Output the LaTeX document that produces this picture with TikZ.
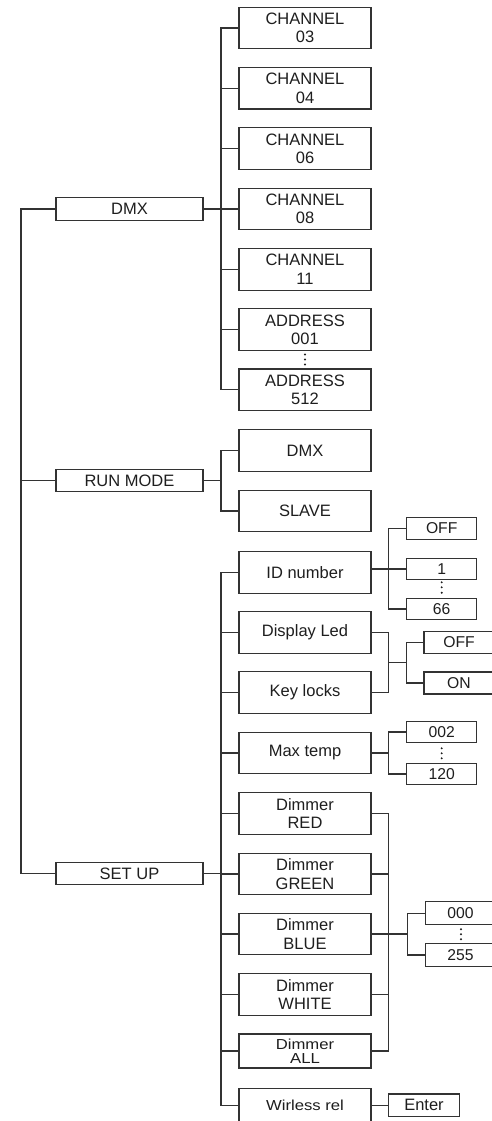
\documentclass[tikz,border=0pt]{standalone}
\usepackage{fontspec}
\setmainfont{Liberation Sans}
\newfontfamily\stretchfont[FakeStretch=1.15]{Liberation Sans}
\definecolor{lc}{HTML}{333333}
\definecolor{tc}{HTML}{1E1E1E}
\tikzset{
  ln/.style={draw=lc, line width=1.1pt},
  box/.style={draw=lc, line width=1.1pt, inner sep=0pt, align=center, text=tc,
    font=\fontsize{16.5}{18.3}\selectfont},
  lbox/.style={box, minimum width=147pt, minimum height=22.5pt},
  mbox/.style={box, minimum width=132pt, minimum height=41.5pt},
  nbox/.style={mbox, minimum height=34pt, font=\stretchfont\fontsize{14.5}{14.5}\selectfont},
  sbox/.style={box, minimum width=70pt, minimum height=21.5pt,
    font=\fontsize{15.7}{17}\selectfont},
  rbox/.style={sbox, minimum width=70pt, minimum height=22pt},
  dot/.style={fill=tc},
}
\begin{document}
\begin{tikzpicture}[x=1pt,y=-1pt]
\useasboundingbox (0,0) rectangle (492,1121);
\clip (0,0) rectangle (492,1121);
% level 1
\node[lbox] (dmx)   at (129.5,209)   {DMX};
\node[lbox] (run)   at (129.5,480.5) {RUN MODE};
\node[lbox] (setup) at (129.5,873.5) {SET UP};
\coordinate (s1) at (21,0);
\draw[ln] (dmx.west) -- (dmx.west -| s1) -- (setup.west -| s1) -- (setup.west);
\draw[ln] (run.west) -- (run.west -| s1);
% level 2
\coordinate (s2) at (221,0);
\node[mbox] (c03) at (305,28)    {CHANNEL\\03};
\node[mbox] (c04) at (305,88.3)  {CHANNEL\\04};
\node[mbox] (c06) at (305,148.6) {CHANNEL\\06};
\node[mbox] (c08) at (305,209)   {CHANNEL\\08};
\node[mbox] (c11) at (305,269.3) {CHANNEL\\11};
\node[mbox] (a001) at (305,329.5) {ADDRESS\\001};
\node[mbox] (a512) at (305,389.7) {ADDRESS\\512};
\draw[ln] (dmx.east) -- (dmx.east -| s2);
\draw[ln] (c03.west) -- (c03.west -| s2) -- (a512.west -| s2) -- (a512.west);
\foreach \n in {c04,c06,c08,c11,a001} \draw[ln] (\n.west) -- (\n.west -| s2);
\foreach \y in {354.5,359.5,364.5} \fill[dot] (305,\y) circle (1.1pt);

\node[mbox] (rdmx)  at (305,450.5) {DMX};
\node[mbox] (slave) at (305,511)   {SLAVE};
\draw[ln] (run.east) -- (run.east -| s2);
\draw[ln] (rdmx.west) -- (rdmx.west -| s2) -- (slave.west -| s2) -- (slave.west);

\node[mbox] (idn)  at (305,572.3) {ID number};
\node[mbox] (disp) at (305,632.3) {Display Led};
\node[mbox] (keyl) at (305,692.3) {Key locks};
\node[mbox] (mt)   at (305,753)   {Max temp};
\node[mbox] (dred) at (305,813.3) {Dimmer\\RED};
\node[mbox] (dgrn) at (305,874)   {Dimmer\\GREEN};
\node[mbox] (dblu) at (305,934)   {Dimmer\\BLUE};
\node[mbox] (dwht) at (305,994.3) {Dimmer\\WHITE};
\node[nbox] (dall) at (305,1051)  {Dimmer\\ALL};
\node[nbox] (wrl)  at (305,1105.5) {Wirless rel};
\draw[ln] (setup.east) -- (setup.east -| s2);
\draw[ln] (idn.west) -- (idn.west -| s2) -- (wrl.west -| s2) -- (wrl.west);
\foreach \n in {disp,keyl,mt,dred,dgrn,dblu,dwht,dall} \draw[ln] (\n.west) -- (\n.west -| s2);

% level 3
\coordinate (s3) at (388.7,0);
\coordinate (s4) at (406.7,0);
% ID number
\node[sbox] (idoff) at (441.7,528.3) {OFF};
\node[sbox] (id1)   at (441.7,569)   {1};
\node[sbox] (id66)  at (441.7,609)   {66};
\draw[ln] (idn.east |- id1) -- (id1.west);
\draw[ln] (idoff.west) -- (idoff.west -| s3) -- (id66.west -| s3) -- (id66.west);
\foreach \y in {582.3,587.3,592.7} \fill[dot] (441.7,\y) circle (1.1pt);
% display / key locks
\node[rbox] (doff) at (459,642.3) {OFF};
\node[rbox] (don)  at (459,683)   {ON};
\coordinate (dk) at (388.7,662.7);
\draw[ln] (disp.east) -- (disp.east -| s3) -- (keyl.east -| s3) -- (keyl.east);
\draw[ln] (dk) -- (dk -| s4);
\draw[ln] (doff.west) -- (doff.west -| s4) -- (don.west -| s4) -- (don.west);
% max temp
\node[sbox] (t002) at (441.7,732) {002};
\node[sbox] (t120) at (441.7,774) {120};
\draw[ln] (mt.east) -- (mt.east -| s3);
\draw[ln] (t002.west) -- (t002.west -| s3) -- (t120.west -| s3) -- (t120.west);
\foreach \y in {748.3,753.3,758.3} \fill[dot] (441.7,\y) circle (1.1pt);
% dimmers
\coordinate (s5) at (407.3,0);
\node[rbox, minimum height=23pt] (v000) at (460.5,913.3) {000};
\node[rbox, minimum height=23pt] (v255) at (460.5,955)   {255};
\draw[ln] (dred.east) -- (dred.east -| s3) -- (dall.east -| s3) -- (dall.east);
\foreach \n in {dgrn,dwht} \draw[ln] (\n.east) -- (\n.east -| s3);
\draw[ln] (dblu.east) -- (dblu.east -| s5);
\draw[ln] (v000.west) -- (v000.west -| s5) -- (v255.west -| s5) -- (v255.west);
\foreach \y in {929.3,934.3,939.3} \fill[dot] (461,\y) circle (1.1pt);
% wireless
\node[box, minimum width=70.3pt, minimum height=22.7pt] (enter) at (424,1105.3) {Enter};
\draw[ln] (wrl.east |- enter) -- (enter.west);
\end{tikzpicture}
\end{document}
